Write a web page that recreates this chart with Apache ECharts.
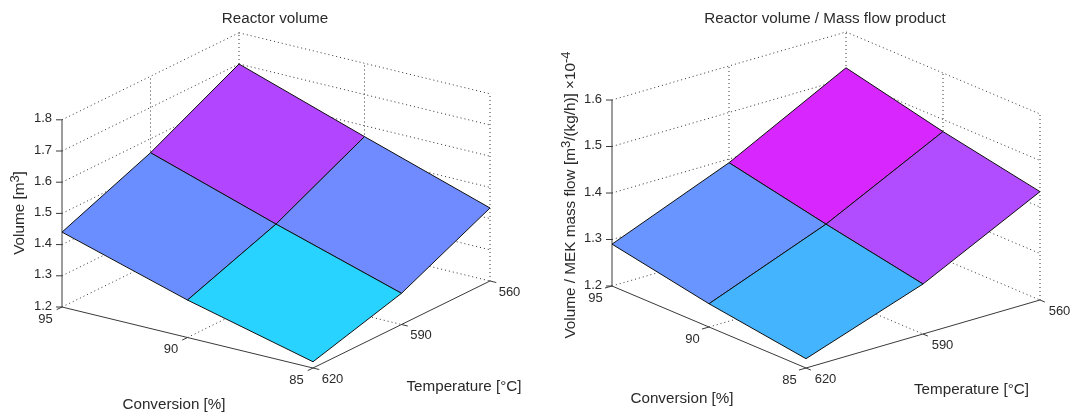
<!DOCTYPE html>
<html>
<head>
<meta charset="utf-8">
<style>html,body{margin:0;padding:0;background:#fff}#c{width:1073px;height:415px}</style>
<script src="https://cdn.jsdelivr.net/npm/echarts@6/dist/echarts.min.js"></script>
</head>
<body>
<div id="c"></div>
<script>
// ---- data ----
const conversionTicks = [95, 90, 85];
const temperatureTicks = [620, 590, 560];
const volumeTicks = [1.2, 1.3, 1.4, 1.5, 1.6, 1.7, 1.8];
const ratioTicks = [1.2, 1.3, 1.4, 1.5, 1.6];
// rows: temperature 620, 590, 560; columns: conversion 95, 90, 85
const volumeSurface = [
  [1.44, 1.32, 1.22],
  [1.555, 1.424, 1.30],
  [1.70, 1.565, 1.434]
];
const ratioSurface = [
  [1.29, 1.25, 1.22],
  [1.392, 1.348, 1.3075],
  [1.523, 1.474, 1.433]
];
// faces: [temperature row, conversion column]
const volumeFaceColors = [['#6A8EFF', '#29D3FF'], ['#B245FF', '#708BFF']];
const ratioFaceColors = [['#6895FF', '#44B4FF'], ['#D826FF', '#B24DFF']];

const FONT = '"Liberation Sans", Arial, sans-serif';
const TXT = '#2a2a2a';
const AX = '#3a3a3a';

const panels = [
  { ticks: volumeTicks, surface: volumeSurface, colors: volumeFaceColors,
    grid: { left: 62, top: 33, width: 428, height: 335 },
    cx: 251, cy: -61, tx: 177, ty: 87, zs: 312, fy: 61,
    yName: '{a|Volume [m}{s|3}{a|]}', yPos: [18, 213],
    xName: [174, 405], tName: [464, 386.5] },
  { ticks: ratioTicks, surface: ratioSurface, colors: ratioFaceColors,
    grid: { left: 612, top: 32, width: 428, height: 336 },
    cx: 194, cy: -82, tx: 234, ty: 68, zs: 465, fy: 82,
    yName: '{a|Volume / MEK mass flow [m}{s|3}{a|/(kg/h)] ×10}{s|-4}', yPos: [569, 195],
    xName: [682, 399], tName: [971.5, 390] }
];

function projector(p) {
  const c0 = conversionTicks[0], cn = conversionTicks[conversionTicks.length - 1];
  const t0 = temperatureTicks[0], tn = temperatureTicks[temperatureTicks.length - 1];
  const z0 = p.ticks[0];
  return function (c, t, z) {
    const cf = (c0 - c) / (c0 - cn), tf = (t0 - t) / (t0 - tn);
    return [p.cx * cf + p.tx * tf, p.fy + p.cy * cf + p.ty * tf + p.zs * (z - z0)];
  };
}

function seg(a, b, style) {
  return { type: 'line', shape: { x1: a[0], y1: a[1], x2: b[0], y2: b[1] }, style: style, silent: true };
}
function label(text, pos, extra) {
  return { type: 'text', x: pos[0], y: pos[1], silent: true,
    style: Object.assign({ text: text, fill: TXT, font: '13px ' + FONT, align: 'center', verticalAlign: 'middle' }, extra || {}) };
}

function frameSeries(p, idx) {
  const P = projector(p);
  const z0 = p.ticks[0], zn = p.ticks[p.ticks.length - 1];
  const cs = conversionTicks, ts = temperatureTicks;
  const c0 = cs[0], cn = cs[cs.length - 1], t0 = ts[0], tn = ts[ts.length - 1];
  return {
    type: 'custom', xAxisIndex: idx, yAxisIndex: idx, silent: true, z: 1, clip: false,
    data: [0],
    renderItem: function (params, api) {
      const C = (c, t, z) => { const v = P(c, t, z); return api.coord(v); };
      const dot = { stroke: '#333', lineWidth: 1, lineDash: [1, 3], fill: null };
      const solid = { stroke: AX, lineWidth: 1, fill: null };
      const ch = [];
      // walls: horizontal grid
      p.ticks.forEach(z => {
        ch.push(seg(C(c0, t0, z), C(c0, tn, z), dot));
        ch.push(seg(C(c0, tn, z), C(cn, tn, z), dot));
      });
      // verticals on walls
      ts.slice(1).forEach(t => ch.push(seg(C(c0, t, z0), C(c0, t, zn), dot)));
      cs.slice(1).forEach(c => ch.push(seg(C(c, tn, z0), C(c, tn, zn), dot)));
      // floor grid
      ch.push(seg(C(cs[1], t0, z0), C(cs[1], tn, z0), dot));
      ch.push(seg(C(c0, ts[1], z0), C(cn, ts[1], z0), dot));
      // axes
      ch.push(seg(C(c0, t0, z0), C(c0, t0, zn), solid));
      ch.push(seg(C(c0, t0, z0), C(cn, t0, z0), solid));
      ch.push(seg(C(cn, t0, z0), C(cn, tn, z0), solid));
      // z ticks + labels
      p.ticks.forEach(z => {
        const a = C(c0, t0, z);
        ch.push(seg([a[0] - 6, a[1]], a, solid));
        ch.push(label(z.toFixed(1), [a[0] - 10, a[1] - 1], { align: 'right' }));
      });
      // conversion ticks + labels
      cs.forEach(c => {
        const a = C(c, t0, z0), b = C(c, t0 + 1.8, z0);
        ch.push(seg(a, b, solid));
        ch.push(label(String(c), [a[0] - 16.5, a[1] + 12]));
      });
      // temperature ticks + labels
      ts.forEach(t => {
        const a = C(cn, t, z0), b = C(cn - 0.25, t, z0);
        ch.push(seg(a, b, solid));
        ch.push(label(String(t), [a[0] + 19.5, a[1] + 11]));
      });
      // axis names
      ch.push(label('Conversion [%]', p.xName, { font: '15.2px ' + FONT }));
      ch.push(label('Temperature [°C]', p.tName, { font: '15.2px ' + FONT }));
      const yl = label(p.yName, p.yPos, { rich: {
        a: { font: '15.3px ' + FONT, fill: TXT, lineHeight: 18, verticalAlign: 'bottom' },
        s: { font: '13px ' + FONT, fill: TXT, lineHeight: 14, padding: [0, 0, 10, 0], verticalAlign: 'top' } } });
      yl.rotation = Math.PI / 2;
      ch.push(yl);
      return { type: 'group', children: ch };
    }
  };
}

function surfaceSeries(p, idx) {
  const P = projector(p);
  const faces = [];
  // back to front
  for (let r = temperatureTicks.length - 2; r >= 0; r--) {
    for (let k = 0; k < conversionTicks.length - 1; k++) faces.push([r, k]);
  }
  return {
    type: 'custom', xAxisIndex: idx, yAxisIndex: idx, silent: true, z: 2, clip: false,
    data: faces,
    renderItem: function (params, api) {
      const r = api.value(0), k = api.value(1);
      const corner = (i, j) => api.coord(P(conversionTicks[j], temperatureTicks[i], p.surface[i][j]));
      return { type: 'polygon',
        shape: { points: [corner(r, k), corner(r, k + 1), corner(r + 1, k + 1), corner(r + 1, k)] },
        style: { fill: p.colors[r][k], stroke: '#111', lineWidth: 1 } };
    }
  };
}

const chart = echarts.init(document.getElementById('c'), null, { renderer: 'canvas' });
chart.setOption({
  animation: false,
  backgroundColor: '#fff',
  title: [
    { text: 'Reactor volume', left: 270, top: 6, textAlign: 'center',
      textStyle: { fontFamily: FONT, fontSize: 15.2, fontWeight: 'normal', color: TXT } },
    { text: 'Reactor volume / Mass flow product', left: 820, top: 6, textAlign: 'center',
      textStyle: { fontFamily: FONT, fontSize: 15.2, fontWeight: 'normal', color: TXT } }
  ],
  grid: panels.map(p => Object.assign({ containLabel: false, show: false }, p.grid)),
  xAxis: panels.map((p, i) => ({ type: 'value', gridIndex: i, min: 0, max: p.grid.width, show: false })),
  yAxis: panels.map((p, i) => ({ type: 'value', gridIndex: i, min: 0, max: p.grid.height, show: false })),
  series: panels.flatMap((p, i) => [frameSeries(p, i), surfaceSeries(p, i)])
});
</script>
</body>
</html>
